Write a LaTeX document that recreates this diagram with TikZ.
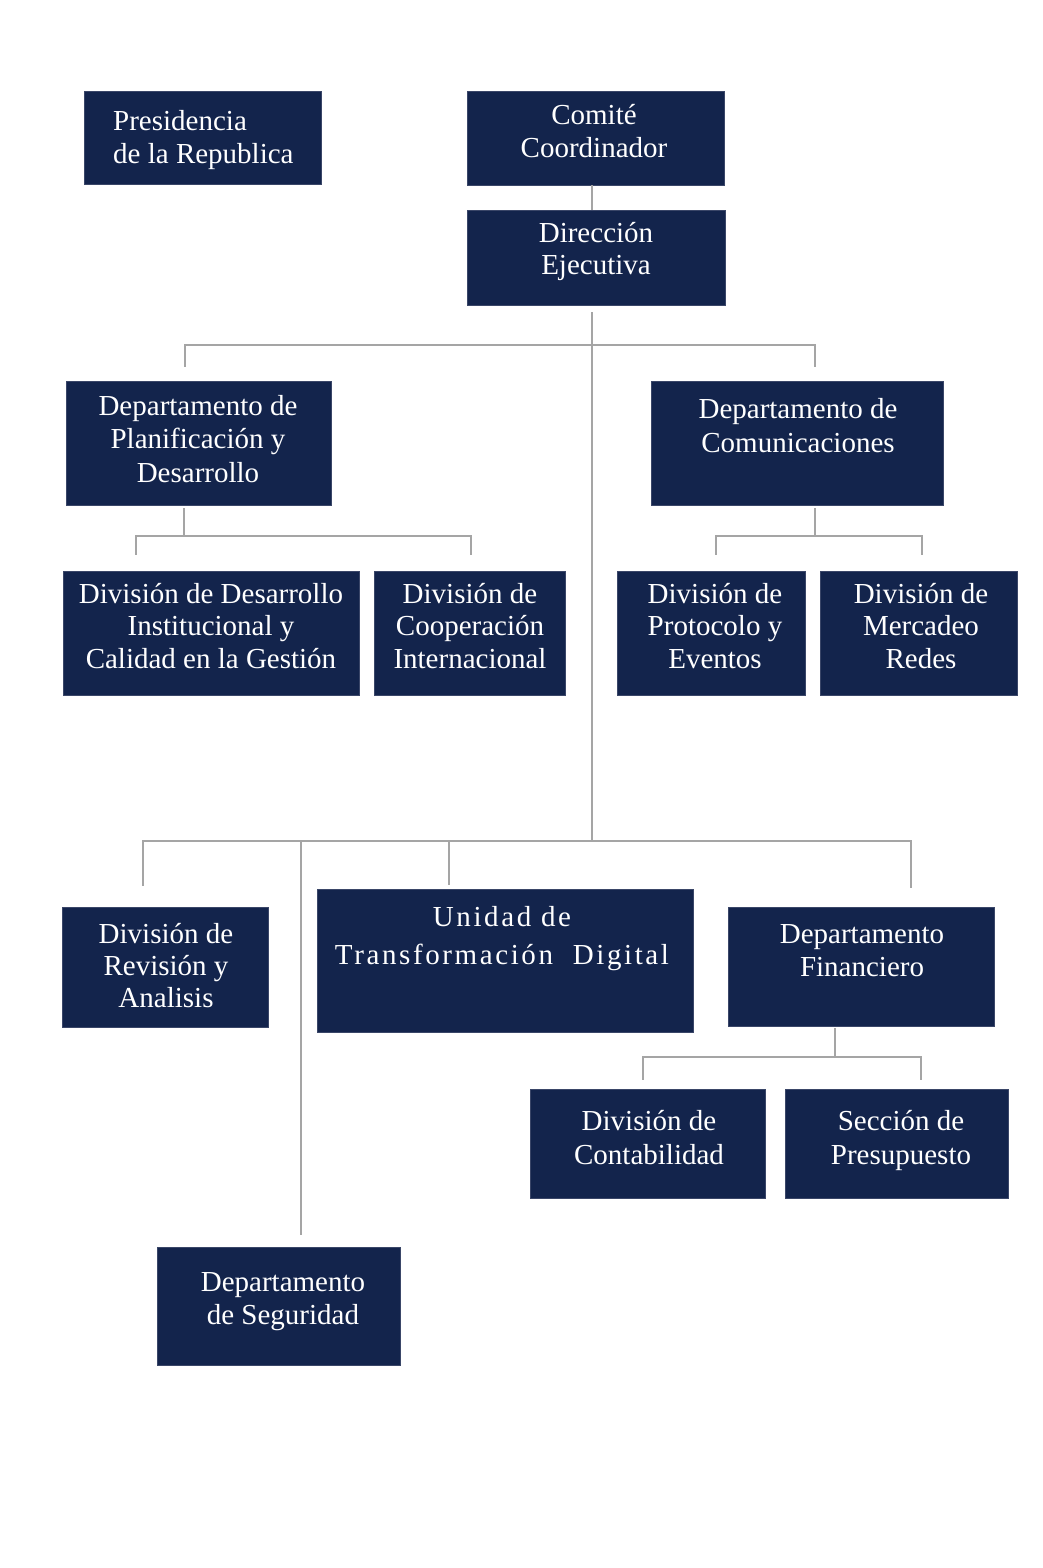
\documentclass[tikz,border=0pt]{standalone}
\usepackage{fontspec}
\setmainfont{Liberation Serif}
\definecolor{navy}{HTML}{13244C}
\definecolor{navyedge}{HTML}{3A4668}
\definecolor{linegray}{HTML}{A5A5A5}
\begin{document}
\begin{tikzpicture}[x=1pt,y=-1pt,
  box/.style={rectangle, fill=navy, draw=navyedge, line width=0.8pt, inner sep=0pt},
  lbl/.style={text=white, align=center, inner sep=0pt, anchor=north, font=\fontsize{29}{33}\selectfont},
  conn/.style={draw=linegray, line width=2pt}]
\useasboundingbox[fill=white] (0,0) rectangle (1042,1568);

% boxes
\node[box, minimum width=237pt, minimum height=93pt]  (pres)   at (202.5,137.5) {};
\node[box, minimum width=257pt, minimum height=94pt]  (comite) at (595.5,138) {};
\node[box, minimum width=258pt, minimum height=95pt]  (dir)    at (596,257.5) {};
\node[box, minimum width=265pt, minimum height=124pt] (plan)   at (198.5,443) {};
\node[box, minimum width=292pt, minimum height=124pt] (comu)   at (797,443) {};
\node[box, minimum width=296pt, minimum height=124pt] (ddi)    at (211,633) {};
\node[box, minimum width=191pt, minimum height=124pt] (dco)    at (469.5,633) {};
\node[box, minimum width=188pt, minimum height=124pt] (dpe)    at (711,633) {};
\node[box, minimum width=197pt, minimum height=124pt] (dme)    at (918.5,633) {};
\node[box, minimum width=206pt, minimum height=120pt] (drev)   at (165,967) {};
\node[box, minimum width=376pt, minimum height=143pt] (utd)    at (505,960.5) {};
\node[box, minimum width=266pt, minimum height=119pt] (dfin)   at (861,966.5) {};
\node[box, minimum width=235pt, minimum height=109pt] (dcon)   at (647.5,1143.5) {};
\node[box, minimum width=223pt, minimum height=109pt] (spre)   at (896.5,1143.5) {};
\node[box, minimum width=243pt, minimum height=118pt] (dseg)   at (278.5,1306) {};

% labels (north = first baseline - 23.1)
\node[lbl, anchor=north west, align=left] (pres-t) at (113,106.9) {\strut Presidencia\\de la Republica};
\node[lbl] (comite-t) at (594,100.9) {\strut Comité\\Coordinador};
\node[lbl, font=\fontsize{29}{32}\selectfont] (dir-t) at (596,219.6) {\strut Dirección\\Ejecutiva};
\node[lbl, font=\fontsize{29}{33.5}\selectfont] (plan-t) at (198,391.5) {\strut Departamento de\\Planificación y\\Desarrollo};
\node[lbl, font=\fontsize{29}{34}\selectfont] (comu-t) at (798,394.2) {\strut Departamento de\\Comunicaciones};
\node[lbl, font=\fontsize{29}{32.5}\selectfont] (ddi-t) at (211,580.2) {\strut División de Desarrollo\\Institucional y\\Calidad en la Gestión};
\node[lbl, font=\fontsize{29}{32.5}\selectfont] (dco-t) at (470,580.2) {\strut División de\\Cooperación\\Internacional};
\node[lbl, font=\fontsize{29}{32.5}\selectfont] (dpe-t) at (715,580.2) {\strut División de\\Protocolo y\\Eventos};
\node[lbl, font=\fontsize{29}{32.5}\selectfont] (dme-t) at (921,580.2) {\strut División de\\Mercadeo\\Redes};
\node[lbl, font=\fontsize{29}{32}\selectfont] (drev-t) at (166,920.6) {\strut División de\\Revisión y\\Analisis};
\node[lbl, font=\fontsize{29}{38}\selectfont\addfontfeature{LetterSpace=9}] (utd-t) at (502,899.4) {\strut Unidad de\\Transformación~ Digital};
\node[lbl] (dfin-t) at (862,919.9) {\strut Departamento\\Financiero};
\node[lbl, font=\fontsize{29}{34}\selectfont] (dcon-t) at (649,1106.2) {\strut División de\\Contabilidad};
\node[lbl, font=\fontsize{29}{34}\selectfont] (spre-t) at (901,1106.2) {\strut Sección de\\Presupuesto};
\node[lbl] (dseg-t) at (283,1267.9) {\strut Departamento\\de Seguridad};

% junction coordinates
\coordinate (t0) at (592,312);
\coordinate (t1) at (592,841);
\coordinate (ua) at (185,345);
\coordinate (ub) at (815,345);
\coordinate (pm) at (184,536);
\coordinate (pa) at (136,536);
\coordinate (pb) at (471,536);
\coordinate (cm) at (815,536);
\coordinate (ca) at (716,536);
\coordinate (cb) at (922,536);
\coordinate (la) at (143,841);
\coordinate (lb) at (911,841);
\coordinate (ls) at (301,841);
\coordinate (lu) at (449,841);
\coordinate (fm) at (835,1057);
\coordinate (fa) at (643,1057);
\coordinate (fb) at (921,1057);

% connectors
\draw[conn] (comite.south -| t0) -- (dir.north -| t0);
\draw[conn] (t0) -- (t1);
\draw[conn, shorten <=14pt, shorten >=14pt] (ua |- plan.north) -- (ua) -- (ub) -- (ub |- comu.north);
\draw[conn, shorten <=3pt] (plan.south -| pm) -- (pm);
\draw[conn, shorten <=16pt, shorten >=16pt] (pa |- ddi.north) -- (pa) -- (pb) -- (pb |- dco.north);
\draw[conn, shorten <=3pt] (comu.south -| cm) -- (cm);
\draw[conn, shorten <=16pt, shorten >=16pt] (ca |- dpe.north) -- (ca) -- (cb) -- (cb |- dme.north);
\draw[conn, shorten <=21pt, shorten >=19pt] (la |- drev.north) -- (la) -- (lb) -- (lb |- dfin.north);
\draw[conn, shorten >=4pt] (lu) -- (lu |- utd.north);
\draw[conn, shorten >=12pt] (ls) -- (ls |- dseg.north);
\draw[conn, shorten <=2pt] (dfin.south -| fm) -- (fm);
\draw[conn, shorten <=9pt, shorten >=9pt] (fa |- dcon.north) -- (fa) -- (fb) -- (fb |- spre.north);
\end{tikzpicture}
\end{document}
